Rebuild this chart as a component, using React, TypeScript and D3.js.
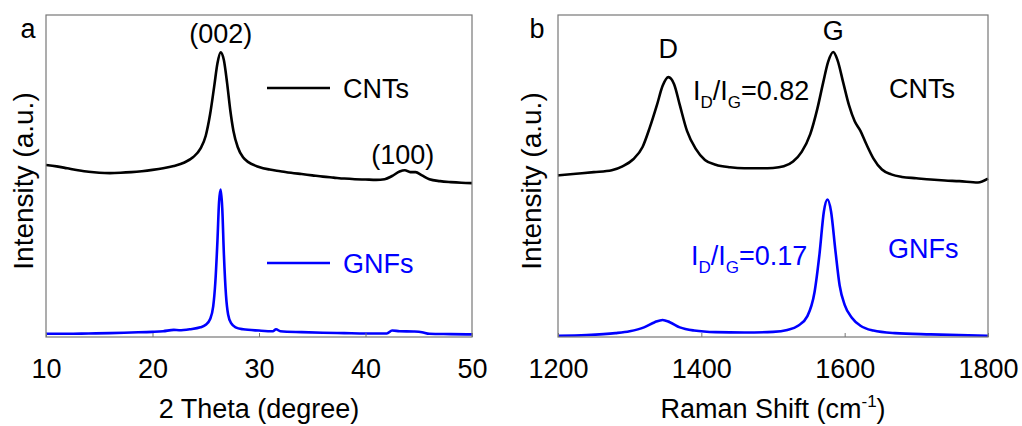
import * as d3 from "d3";
import React, { useEffect, useRef } from "react";

// panel a: XRD
const xrdCntX = [10, 11, 12, 13, 14, 15, 16, 17, 18, 19, 20, 21, 22, 23, 23.8, 24.5, 25.0, 25.4, 25.8, 26.1, 26.4, 26.7, 27.0, 27.3, 27.6, 28.0, 28.5, 29, 30, 31, 32, 33, 34, 35, 36, 37, 38, 39, 40, 41, 41.8, 42.5, 43.2, 43.7, 44.2, 44.7, 45.3, 46, 47, 48, 49, 50];
const xrdCntY = [0.534, 0.530, 0.524, 0.518, 0.513, 0.510, 0.509, 0.510, 0.512, 0.515, 0.519, 0.524, 0.531, 0.542, 0.558, 0.585, 0.625, 0.690, 0.780, 0.850, 0.884, 0.860, 0.790, 0.705, 0.640, 0.590, 0.558, 0.543, 0.528, 0.520, 0.515, 0.510, 0.506, 0.502, 0.498, 0.495, 0.492, 0.490, 0.489, 0.488, 0.490, 0.500, 0.514, 0.518, 0.512, 0.512, 0.502, 0.490, 0.484, 0.481, 0.479, 0.478];
const xrdGnfX = [10, 12, 14, 16, 18, 20, 21, 22, 22.5, 23.5, 24.5, 25.0, 25.4, 25.7, 25.9, 26.1, 26.25, 26.4, 26.55, 26.7, 26.9, 27.1, 27.4, 27.8, 28.5, 30, 31.3, 31.6, 32, 34, 36, 38, 40, 42, 42.5, 43.2, 44.5, 45.3, 46, 48, 50];
const xrdGnfY = [0.010, 0.010, 0.011, 0.012, 0.014, 0.016, 0.018, 0.022, 0.021, 0.024, 0.030, 0.038, 0.055, 0.095, 0.170, 0.300, 0.420, 0.458, 0.400, 0.260, 0.130, 0.070, 0.042, 0.030, 0.024, 0.020, 0.018, 0.024, 0.018, 0.015, 0.013, 0.012, 0.011, 0.011, 0.020, 0.018, 0.017, 0.015, 0.010, 0.009, 0.008];
const xrdTicks = [10, 20, 30, 40, 50];

// panel b: Raman
const ramCntX = [1200, 1225, 1250, 1275, 1290, 1305, 1318, 1328, 1338, 1346, 1354, 1362, 1370, 1380, 1392, 1405, 1420, 1440, 1460, 1480, 1500, 1515, 1528, 1540, 1552, 1562, 1570, 1577, 1584, 1590, 1598, 1606, 1614, 1622, 1630, 1640, 1652, 1665, 1680, 1700, 1720, 1740, 1760, 1786, 1800];
const ramCntY = [0.502, 0.507, 0.512, 0.518, 0.530, 0.552, 0.590, 0.650, 0.720, 0.780, 0.807, 0.785, 0.720, 0.640, 0.585, 0.550, 0.535, 0.527, 0.524, 0.524, 0.525, 0.530, 0.545, 0.575, 0.630, 0.710, 0.790, 0.855, 0.885, 0.860, 0.790, 0.720, 0.670, 0.640, 0.600, 0.555, 0.520, 0.505, 0.497, 0.493, 0.489, 0.486, 0.484, 0.480, 0.492];
const ramGnfX = [1200, 1240, 1280, 1300, 1320, 1335, 1346, 1356, 1370, 1390, 1420, 1460, 1500, 1520, 1535, 1548, 1558, 1565, 1571, 1576, 1581, 1587, 1593, 1600, 1610, 1622, 1640, 1670, 1720, 1800];
const ramGnfY = [0.004, 0.006, 0.012, 0.018, 0.030, 0.046, 0.053, 0.046, 0.030, 0.020, 0.015, 0.014, 0.016, 0.022, 0.035, 0.065, 0.140, 0.260, 0.390, 0.427, 0.390, 0.270, 0.160, 0.100, 0.060, 0.035, 0.020, 0.012, 0.008, 0.004];
const ramTicks = [1200, 1400, 1600, 1800];

const FONT = "'Liberation Sans', Arial, sans-serif";
const BLUE = "#0000ff";
const FS = 27;

export default function App() {
  const svgRef = useRef(null);

  useEffect(() => {
    const svg = d3.select(svgRef.current);
    svg.selectAll("*").remove();

    const top = 15, bottom = 337;
    const y = d3.scaleLinear().domain([0, 1]).range([bottom, top]);

    const drawPanel = (left, right, domain, ticks, series, xlabel, letter, lblX, letterX) => {
      const x = d3.scaleLinear().domain(domain).range([left, right]);
      const g = svg.append("g");

      const line = d3.line().x(d => x(d[0])).y(d => y(d[1])).curve(d3.curveMonotoneX);
      series.forEach(s => {
        g.append("path")
          .datum(s.xs.map((v, i) => [v, s.ys[i]]))
          .attr("fill", "none")
          .attr("stroke", s.color)
          .attr("stroke-width", 2.6)
          .attr("stroke-linejoin", "round")
          .attr("d", line);
      });

      g.append("rect")
        .attr("x", left).attr("y", top)
        .attr("width", right - left).attr("height", bottom - top)
        .attr("fill", "none").attr("stroke", "#777").attr("stroke-width", 1.2);

      g.append("g")
        .attr("transform", `translate(0,${bottom})`)
        .call(d3.axisBottom(x).tickValues(ticks).tickFormat(d3.format("d")).tickSizeInner(-4).tickSizeOuter(0).tickPadding(22))
        .call(a => a.select(".domain").remove())
        .call(a => a.selectAll(".tick line").attr("stroke", "#777"))
        .call(a => a.selectAll(".tick text").attr("font-size", 27).attr("font-family", FONT).attr("fill", "#000"));

      g.append("text")
        .attr("x", (left + right) / 2).attr("y", 418)
        .attr("text-anchor", "middle").attr("font-size", FS).attr("font-family", FONT)
        .call(t => xlabel(t));

      g.append("text")
        .attr("transform", `translate(${lblX},181) rotate(-90)`)
        .attr("text-anchor", "middle").attr("font-size", 28).attr("font-family", FONT)
        .text("Intensity (a.u.)");

      g.append("text")
        .attr("x", letterX).attr("y", 38)
        .attr("text-anchor", "middle").attr("font-size", FS).attr("font-family", FONT)
        .text(letter);

      return { x, g };
    };

    const a = drawPanel(46, 472, [10, 50], xrdTicks, [
      { xs: xrdCntX, ys: xrdCntY, color: "#000" },
      { xs: xrdGnfX, ys: xrdGnfY, color: BLUE },
    ], t => t.text("2 Theta (degree)"), "a", 33, 28);

    const txt = (g, xx, yy, s, color, anchor = "start") =>
      g.append("text").attr("x", xx).attr("y", yy).attr("text-anchor", anchor)
        .attr("font-size", FS).attr("font-family", FONT).attr("fill", color).text(s);

    txt(a.g, a.x(26.4), 43, "(002)", "#000", "middle");
    txt(a.g, a.x(43.5), 164, "(100)", "#000", "middle");
    [[88, "#000", "CNTs"], [263, BLUE, "GNFs"]].forEach(([yy, c, s]) => {
      a.g.append("line").attr("x1", 267).attr("x2", 330).attr("y1", yy).attr("y2", yy)
        .attr("stroke", c).attr("stroke-width", 2.6);
      txt(a.g, 343, yy + 10, s, c);
    });

    const b = drawPanel(558, 988, [1200, 1800], ramTicks, [
      { xs: ramCntX, ys: ramCntY, color: "#000" },
      { xs: ramGnfX, ys: ramGnfY, color: BLUE },
    ], t => {
      t.append("tspan").text("Raman Shift (cm");
      t.append("tspan").attr("font-size", 17).attr("dy", -11).text("-1");
      t.append("tspan").attr("dy", 11).text(")");
    }, "b", 541, 537);

    txt(b.g, b.x(1354), 58, "D", "#000", "middle");
    txt(b.g, b.x(1584), 40, "G", "#000", "middle");
    txt(b.g, 889, 98, "CNTs", "#000");
    txt(b.g, 888, 258, "GNFs", BLUE);

    const ratio = (xx, yy, val, color) => {
      const t = b.g.append("text").attr("x", xx).attr("y", yy)
        .attr("font-size", FS).attr("font-family", FONT).attr("fill", color);
      t.append("tspan").text("I");
      t.append("tspan").attr("font-size", 17).attr("dy", 8).text("D");
      t.append("tspan").attr("dy", -8).text("/I");
      t.append("tspan").attr("font-size", 17).attr("dy", 8).text("G");
      t.append("tspan").attr("dy", -8).text("=" + val);
    };
    ratio(693, 100, "0.82", "#000");
    ratio(691, 265, "0.17", BLUE);
  }, []);

  return (
    <svg ref={svgRef} width={1022} height={426}
      style={{ position: "absolute", left: 0, top: 0, background: "#fff" }} />
  );
}
